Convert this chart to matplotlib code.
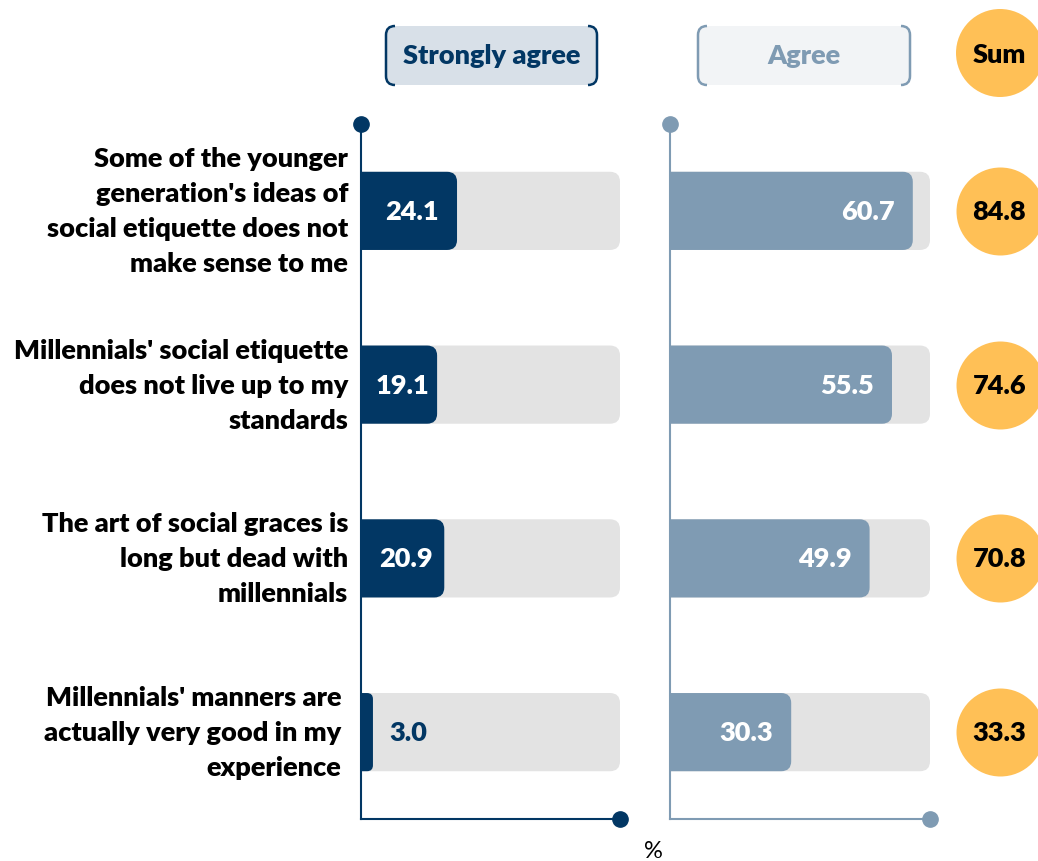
import matplotlib
matplotlib.use("Agg")
from matplotlib import pyplot as plt
from matplotlib.patches import FancyBboxPatch, Ellipse, PathPatch
from matplotlib.path import Path
import numpy as np

plt.rcParams['font.family'] = ['Lato', 'DejaVu Sans']

categories = ["Some of the younger\ngeneration's ideas of\nsocial etiquette does not\nmake sense to me",
              "Millennials' social etiquette\ndoes not live up to my\nstandards",
              "The art of social graces is\nlong but dead with\nmillennials",
              "Millennials' manners are\nactually very good in my\nexperience"]
strongly_agree = [24.1, 19.1, 20.9, 3.0]
agree = [60.7, 55.5, 49.9, 30.3]
sums = [a + b for a, b in zip(strongly_agree, agree)]
series_names = ["Strongly agree", "Agree", "Sum"]
unit_label = "%"

NAVY = '#023764'
STEEL = '#7f9bb3'
GREY = '#e3e3e3'
GOLD = '#ffc056'
W, H = 1038, 862
XMAX = 65
BAR_H = 0.45
FS = 19.5
WT = 'heavy'

fig = plt.figure(figsize=(W / 100, H / 100), dpi=100)


def fx(x):
    return x / W


def fy(y):
    return 1 - y / H


def make_axes(left_px, right_px, color):
    ax = fig.add_axes([fx(left_px), fy(820), (right_px - left_px) / W, 695 / H])
    ax.set_xlim(0, XMAX)
    ax.set_ylim(3.5, -0.5)
    for s in ['top', 'right']:
        ax.spines[s].set_visible(False)
    for s in ['left', 'bottom']:
        ax.spines[s].set_color(color)
        ax.spines[s].set_linewidth(1.5)
    ax.set_xticks([])
    ax.set_yticks([])
    ax.patch.set_alpha(0)
    ax.plot([0], [-0.5], 'o', color=color, ms=11, clip_on=False, zorder=5)
    ax.plot([XMAX], [3.5], 'o', color=color, ms=11, clip_on=False, zorder=5)
    return ax


def rounded_bar(ax, y, w, color, px_per_unit):
    r_units = 10 / px_per_unit
    r = min(r_units, max(w, 0.1) / 2)
    ma = (4 / 695) / (1 / px_per_unit)
    p = FancyBboxPatch((-r_units, y - BAR_H / 2), w + r_units, BAR_H,
                       boxstyle=f"round,pad=0,rounding_size={r}",
                       mutation_aspect=ma, fc=color, ec='none', zorder=2)
    ax.add_patch(p)


ax1 = make_axes(361, 620, NAVY)
ax2 = make_axes(670, 930, STEEL)
ppu1 = 259 / XMAX
ppu2 = 260 / XMAX

for i in range(len(categories)):
    rounded_bar(ax1, i, XMAX, GREY, ppu1)
    rounded_bar(ax1, i, strongly_agree[i], NAVY, ppu1)
    rounded_bar(ax2, i, XMAX, GREY, ppu2)
    rounded_bar(ax2, i, agree[i], STEEL, ppu2)

    v = strongly_agree[i]
    if v > 8:
        ax1.text(v / 2 + 0.8, i, f"{v:.1f}", color='white', fontsize=FS,
                 fontweight=WT, ha='center', va='center', zorder=4)
    else:
        ax1.text(v + 4, i, f"{v:.1f}", color=NAVY, fontsize=FS,
                 fontweight=WT, ha='left', va='center', zorder=4)
    ax2.text(agree[i] - 4.5, i, f"{agree[i]:.1f}", color='white', fontsize=FS,
             fontweight=WT, ha='right', va='center', zorder=4)

    # sum bubble
    ax2.scatter([82.5], [i], s=4014, color=GOLD, clip_on=False, zorder=3, linewidths=0)
    ax2.text(82.3, i, f"{sums[i]:.1f}", color='black', fontsize=FS,
             fontweight=WT, ha='center', va='center', clip_on=False, zorder=4)

    xoff = 13 if i < 3 else 20
    ax1.text(-(xoff / ppu1), i, categories[i], ha='right', va='center', fontsize=FS,
             fontweight=WT, color='black', linespacing=1.55)

fig.text(fx(653), fy(852), unit_label, ha='center', va='center', fontsize=17, color='black')


def header_box(x0, x1, y0, y1, fill, edge, label, tcolor):
    ma = (1 / H) / (1 / W)
    box = FancyBboxPatch((fx(x0), fy(y1)), (x1 - x0) / W, (y1 - y0) / H,
                         boxstyle=f"round,pad=0,rounding_size={10 / W}",
                         mutation_aspect=ma, fc=fill, ec='none',
                         transform=fig.transFigure)
    fig.add_artist(box)
    r = 9
    codes = [Path.MOVETO, Path.CURVE3, Path.CURVE3, Path.LINETO, Path.CURVE3, Path.CURVE3]
    left = [(x0 + r, y0), (x0, y0), (x0, y0 + r), (x0, y1 - r), (x0, y1), (x0 + r, y1)]
    right = [(x1 - r, y0), (x1, y0), (x1, y0 + r), (x1, y1 - r), (x1, y1), (x1 - r, y1)]
    for pts in (left, right):
        verts = [(fx(a), fy(b)) for a, b in pts]
        fig.add_artist(PathPatch(Path(verts, codes), fc='none', ec=edge, lw=1.8,
                                 transform=fig.transFigure))
    fig.text(fx((x0 + x1) / 2), fy((y0 + y1) / 2), label, ha='center', va='center',
             fontsize=FS, fontweight=WT, color=tcolor)


header_box(386, 597, 27, 86, '#d8e0e8', NAVY, series_names[0], NAVY)
header_box(698, 910, 27, 86, '#f2f4f6', STEEL, series_names[1], STEEL)
fig.add_artist(Ellipse((fx(1000), fy(54)), 88 / W, 88 / H, fc=GOLD, ec='none',
                       transform=fig.transFigure))
fig.text(fx(999), fy(55), series_names[2], ha='center', va='center', fontsize=FS,
         fontweight=WT, color='black')

fig.savefig('out.png', dpi=100)
